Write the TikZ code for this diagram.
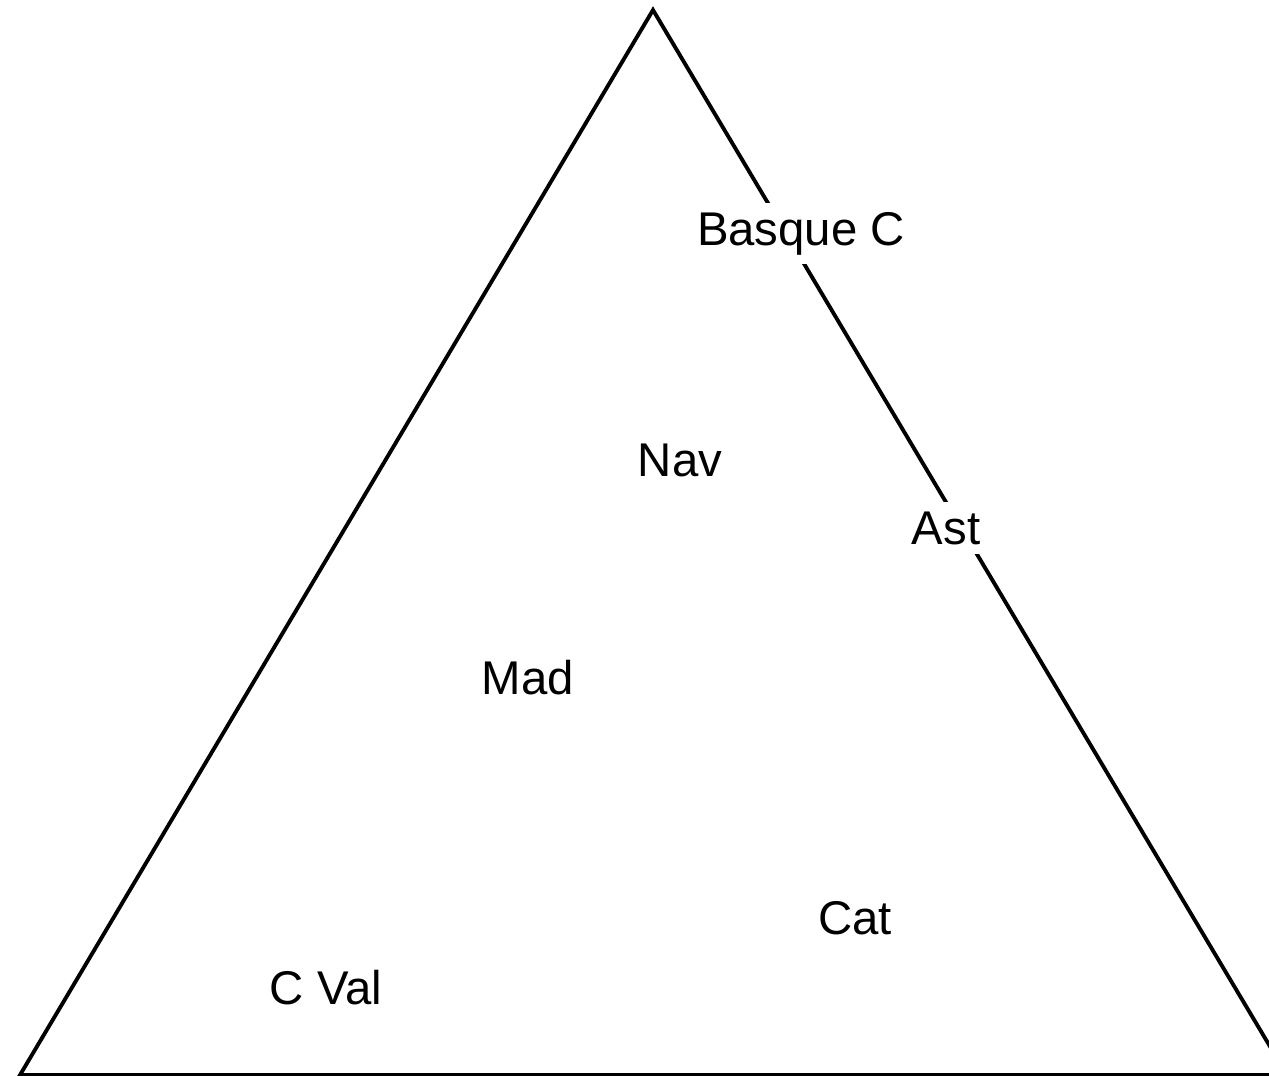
\documentclass[tikz,border=0pt]{standalone}
\usepackage{fontspec}
\setmainfont{Liberation Sans}
\begin{document}
\begin{tikzpicture}[x=0.75pt,y=-0.75pt,
  region/.style={font=\fontsize{35.5}{40}\selectfont, inner xsep=2pt, inner ysep=7pt, anchor=base},
  onedge/.style={region, fill=white}]
\useasboundingbox (0,0) rectangle (1269,1075);
\begin{scope}
\clip (0,0) rectangle (1269,1075);
% the triangle
\coordinate (top) at (653,10);
\coordinate (bl) at (20,1075);
\coordinate (br) at (1287,1075);
\draw[line width=2.9pt, line join=miter] (top) -- (br) -- (bl) -- cycle;
\end{scope}
% region labels
\node[onedge] (basque) at (801,245) {Basque C};
\node[onedge] (ast) at (946,544) {Ast};
\node[region] (nav) at (680,476) {Nav};
\node[region] (mad) at (528,694) {Mad};
\node[region] (cat) at (855,934) {Cat};
\node[region] (cval) at (326,1004) {C Val};
\end{tikzpicture}
\end{document}
